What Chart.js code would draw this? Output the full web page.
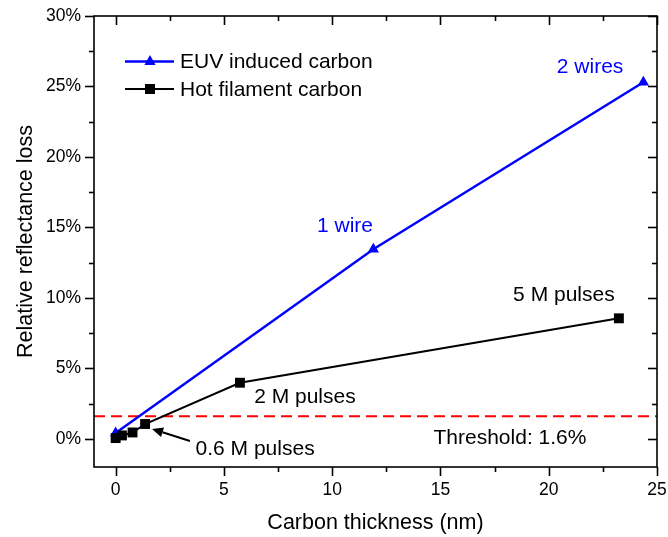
<!DOCTYPE html>
<html>
<head>
<meta charset="utf-8">
<script src="https://cdn.jsdelivr.net/npm/chart.js@4.4.1/dist/chart.umd.min.js"></script>
<style>
  html, body { margin: 0; padding: 0; background: #fff; }
  #wrap { width: 668px; height: 537px; }
</style>
</head>
<body>
<div id="wrap"><canvas id="c" width="668" height="537"></canvas></div>
<script>
// ---- data ----
const euvThickness = [0, 11.9, 24.37];
const euvLoss = [0.41, 13.45, 25.3];
const hotThickness = [0, 0.29, 0.78, 1.36, 5.74, 23.24];
const hotLoss = [0.05, 0.24, 0.45, 1.05, 3.98, 8.55];
const thresholdValue = 1.6;
const xTickValues = [0, 5, 10, 15, 20, 25];
const xMinorTicks = [2.5, 7.5, 12.5, 17.5, 22.5];
const yTickValues = [0, 5, 10, 15, 20, 25, 30];
const yTickLabels = ['0%', '5%', '10%', '15%', '20%', '25%', '30%'];
const yMinorTicks = [2.5, 7.5, 12.5, 17.5, 22.5, 27.5];
const seriesNames = ['EUV induced carbon', 'Hot filament carbon'];
const annotationTexts = ['2 wires', '1 wire', '5 M pulses', '2 M pulses', '0.6 M pulses', 'Threshold: 1.6%'];
const annotationAt = [[21.91, 26.38], [10.59, 15.1], [20.7, 10.2], [8.74, 2.97], [6.44, -0.72], [18.21, 0.06]];
const annotationColors = ['#0000ff', '#0000ff', '#000', '#000', '#000', '#000'];
const arrowFrom = [3.43, -0.16];
const arrowTo = [1.68, 0.7];

const FONT = "'Liberation Sans', Arial, sans-serif";
const BLUE = '#0000ff';

const toPts = (xs, ys) => xs.map((v, i) => ({ x: v, y: ys[i] }));

const frameTicks = {
  id: 'frameTicks',
  afterDatasetsDraw(chart) {
    const { ctx, chartArea: a, scales: { x, y } } = chart;
    ctx.save();
    ctx.strokeStyle = '#000';
    ctx.lineWidth = 1.6;
    ctx.lineCap = 'butt';
    const seg = (x1, y1, x2, y2) => { ctx.beginPath(); ctx.moveTo(x1, y1); ctx.lineTo(x2, y2); ctx.stroke(); };
    ctx.strokeRect(a.left, a.top, a.right - a.left, a.bottom - a.top);
    const xt = (v, len) => { const p = Math.round(x.getPixelForValue(v)) + 0.5; seg(p, a.bottom, p, a.bottom + len); seg(p, a.top, p, a.top + len); };
    const yt = (v, len) => { const p = Math.round(y.getPixelForValue(v)) + 0.5; seg(a.left - len, p, a.left, p); seg(a.right - len, p, a.right, p); };
    xTickValues.forEach(v => xt(v, 9));
    xMinorTicks.forEach(v => xt(v, 5));
    yTickValues.forEach(v => yt(v, 9));
    yMinorTicks.forEach(v => yt(v, 5));
    ctx.restore();
  }
};

const annotations = {
  id: 'annotations',
  afterDatasetsDraw(chart) {
    const { ctx, scales: { x, y } } = chart;
    ctx.save();
    ctx.font = '21px ' + FONT;
    ctx.textAlign = 'center';
    ctx.textBaseline = 'middle';
    annotationTexts.forEach((t, i) => {
      ctx.fillStyle = annotationColors[i];
      ctx.fillText(t, x.getPixelForValue(annotationAt[i][0]), y.getPixelForValue(annotationAt[i][1]));
    });
    // arrow
    const x1 = x.getPixelForValue(arrowFrom[0]), y1 = y.getPixelForValue(arrowFrom[1]);
    const x2 = x.getPixelForValue(arrowTo[0]), y2 = y.getPixelForValue(arrowTo[1]);
    const ang = Math.atan2(y2 - y1, x2 - x1);
    const hl = 11, hw = 5;
    const bx = x2 - hl * Math.cos(ang), by = y2 - hl * Math.sin(ang);
    ctx.strokeStyle = '#000';
    ctx.lineWidth = 2;
    ctx.beginPath(); ctx.moveTo(x1, y1); ctx.lineTo(bx, by); ctx.stroke();
    ctx.fillStyle = '#000';
    ctx.beginPath();
    ctx.moveTo(x2, y2);
    ctx.lineTo(bx + hw * Math.sin(ang), by - hw * Math.cos(ang));
    ctx.lineTo(bx - hw * Math.sin(ang), by + hw * Math.cos(ang));
    ctx.closePath(); ctx.fill();

    // legend
    const lx0 = 125, lx1 = 174, lm = 150, tx = 180;
    const rows = [61.5, 89];
    const cols = [BLUE, '#000'];
    rows.forEach((ry, i) => {
      ctx.strokeStyle = cols[i];
      ctx.lineWidth = i === 0 ? 2.5 : 2;
      ctx.beginPath(); ctx.moveTo(lx0, ry); ctx.lineTo(lx1, ry); ctx.stroke();
      ctx.fillStyle = cols[i];
      ctx.beginPath();
      if (i === 0) {
        ctx.moveTo(lm, ry - 6.5); ctx.lineTo(lm + 5.6, ry + 3.5); ctx.lineTo(lm - 5.6, ry + 3.5); ctx.closePath();
      } else {
        ctx.rect(lm - 5, ry - 5, 10, 10);
      }
      ctx.fill();
      ctx.fillStyle = '#000';
      ctx.textAlign = 'left';
      ctx.fillText(seriesNames[i], tx, ry + 1);
    });
    ctx.restore();
  }
};

new Chart(document.getElementById('c'), {
  type: 'scatter',
  data: {
    datasets: [
      {
        label: 'Threshold',
        data: [{ x: -1, y: thresholdValue }, { x: 25, y: thresholdValue }],
        showLine: true, borderColor: '#ff0000', borderWidth: 2, borderDash: [11, 6],
        pointRadius: 0, order: 3
      },
      {
        label: seriesNames[1],
        data: toPts(hotThickness, hotLoss),
        showLine: true, borderColor: '#000', backgroundColor: '#000', borderWidth: 2,
        pointStyle: 'rect', pointRadius: 7, pointBorderWidth: 0, order: 1
      },
      {
        label: seriesNames[0],
        data: toPts(euvThickness, euvLoss),
        showLine: true, borderColor: BLUE, backgroundColor: BLUE, borderWidth: 2.5,
        pointStyle: 'triangle', pointRadius: 6.5, pointBorderWidth: 0, order: 2
      }
    ]
  },
  options: {
    responsive: false,
    animation: false,
    devicePixelRatio: 1,
    layout: { padding: { top: 16, right: 11, left: 0, bottom: 0 } },
    plugins: { legend: { display: false }, tooltip: { enabled: false } },
    scales: {
      x: {
        type: 'linear', min: -1, max: 25,
        afterBuildTicks: s => { s.ticks = xTickValues.map(v => ({ value: v })); },
        afterFit: s => { s.height = 70; s.paddingLeft = 0; s.paddingRight = 0; },
        grid: { display: false, drawTicks: false },
        border: { display: false },
        ticks: { color: '#000', padding: 13, maxRotation: 0, font: { family: FONT, size: 17.5 } },
        title: { display: true, text: 'Carbon thickness (nm)', color: '#000', padding: { top: 0, bottom: 1 }, font: { family: FONT, size: 21.5 } }
      },
      y: {
        type: 'linear', min: -2, max: 30,
        afterBuildTicks: s => { s.ticks = yTickValues.map(v => ({ value: v })); },
        afterFit: s => { s.width = 94; s.paddingTop = 0; s.paddingBottom = 0; },
        grid: { display: false, drawTicks: false },
        border: { display: false },
        ticks: { color: '#000', padding: 13, font: { family: FONT, size: 17.5 },
          callback: v => { const i = yTickValues.indexOf(v); return i >= 0 ? yTickLabels[i] : ''; } },
        title: { display: true, text: 'Relative reflectance loss', color: '#000', padding: { top: 13, bottom: 0 }, font: { family: FONT, size: 21.5 } }
      }
    }
  },
  plugins: [frameTicks, annotations]
});
</script>
</body>
</html>
